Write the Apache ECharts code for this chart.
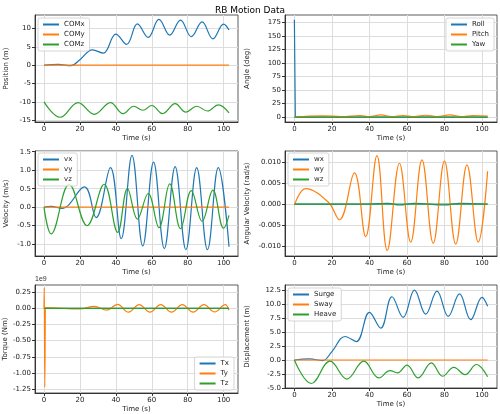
<!DOCTYPE html><html><head><meta charset="utf-8">
<script src="https://cdn.jsdelivr.net/npm/echarts@6/dist/echarts.min.js"></script>
<style>html,body{margin:0;padding:0;background:#fff}#c{width:500px;height:414px}</style></head><body><div id="c"></div>
<script>
const timeTicks=[0,20,40,60,80,100];
const surge=[[0,0],[8,0.2],[15,-0.1],[20,1.5],[27,4.2],[33,3.3],[40,8.5],[46,5.7],[52,11.3],[58,7.6],[64,12.5],[70,8.2],[76,12.3],[82,7.8],[88,11.8],[94,7.2],[100,11.2],[103,9.6]];
const sway=[[0,0],[103,0]];
const heave=[[0,0],[9,-4.2],[19,-0.2],[28,-3.4],[37,-0.2],[45,-3.2],[51,-1.9],[55,-2.3],[60,-0.9],[66,-3.2],[73,-0.5],[79,-2.9],[85,-1.3],[91,-2.6],[97,-0.8],[103,-3.0]];
const comX=surge;
const comY=[[0,0],[103,0]];
const comZ=[[0,-10],[9,-14.2],[19,-10.2],[28,-13.4],[37,-10.2],[44,-13.2],[50,-11.2],[55,-12.3],[60,-11],[66,-13.2],[73,-10.5],[79,-12.8],[85,-11.2],[91,-12.5],[97,-10.8],[103,-13]];
const roll=[[0,180],[0.4,180],[0.5,0],[103,0]];
const pitch=[[0,0],[15,2.5],[25,1],[35,3],[40,1],[46,4],[52,1],[58,3],[64,1],[70,3.5],[76,1],[83,4],[89,1],[95,3],[103,2]];
const yaw=[[0,0],[103,0]];
const vx=[[0,0],[4,0.02],[10,-0.03],[22.5,0.55],[29,-0.28],[37,1.07],[43,-0.85],[49,1.4],[55,-1.05],[61,1.22],[67,-1.12],[73,1.1],[79,-1.15],[85,1.07],[91,-1.15],[97,1.07],[103,-1.07]];
const vy=[[0,0],[103,0]];
const vz=[[0,0],[4,-0.72],[14,0.62],[24,-0.5],[33.5,0.62],[41,-0.68],[46.5,0.5],[52,-0.32],[58,0.37],[64,-0.55],[70,0.63],[76,-0.58],[82,0.45],[88,-0.38],[94,0.46],[100,-0.57],[103,-0.22]];
const wx=[[0,0],[40,0],[50,0.0002],[56,-0.0002],[64,0.0002],[80,-0.0002],[88,0.0002],[103,0]];
const wy=[[0,-0.0003],[6,0.0037],[18,0.0005],[24,-0.0037],[32,0.0074],[38,-0.0077],[44,0.0115],[49.5,-0.011],[56,0.0097],[62,-0.009],[68,0.0105],[74,-0.0093],[80,0.0102],[86,-0.0095],[92,0.0093],[98,-0.009],[103,0.0078]];
const wz=[[0,0],[103,0]];
const tx=[[0,0],[103,0]];
const ty=[[0,0],[0.15,0.32],[0.45,-1.22],[0.8,0.01],[20,-0.01],[28,0.03],[35,-0.03],[41,0.06],[47,-0.06],[53,0.055],[59,-0.06],[65,0.055],[71,-0.06],[77,0.055],[83,-0.06],[89,0.055],[95,-0.055],[101,0.055],[103,-0.03]];
const tz=[[0,0],[103,0]];
const C=['#1f77b4','#ff7f0e','#2ca02c'];
const panels=[
 {g:{left:35,top:15,width:203,height:107},y:'Position (m)',min:-15.5,max:13.7,ticks:[-15,-10,-5,0,5,10],s:[['COMx',comX],['COMy',comY],['COMz',comZ]],lg:{left:38,top:18}},
 {g:{left:285,top:15,width:212,height:107},y:'Angle (deg)',min:-9,max:189,ticks:[0,25,50,75,100,125,150,175],s:[['Roll',roll,'n'],['Pitch',pitch],['Yaw',yaw]],lg:{right:6,top:18}},
 {g:{left:35,top:151,width:203,height:105},y:'Velocity (m/s)',min:-1.32,max:1.52,ticks:[-1,-0.5,0,0.5,1,1.5],fmt:v=>v.toFixed(1),s:[['vx',vx],['vy',vy],['vz',vz]],lg:{left:38,top:153}},
 {g:{left:285,top:151,width:212,height:105},y:'Angular Velocity (rad/s)',min:-0.0123,max:0.0126,ticks:[-0.01,-0.005,0,0.005,0.01],fmt:v=>v.toFixed(3),s:[['wx',wx],['wy',wy],['wz',wz]],lg:{left:288,top:153}},
 {g:{left:35,top:285,width:203,height:108},y:'Torque (Nm)',min:-1.31,max:0.36,ticks:[-1.25,-1,-0.75,-0.5,-0.25,0,0.25],fmt:v=>v.toFixed(2),s:[['Tx',tx],['Ty',ty,'m'],['Tz',tz]],lg:{right:266,bottom:24}},
 {g:{left:285,top:285,width:212,height:103},y:'Displacement (m)',min:-5,max:13.4,ticks:[-5,-2.5,0,2.5,5,7.5,10,12.5],fmt:v=>v.toFixed(1),s:[['Surge',surge],['Sway',sway],['Heave',heave]],lg:{left:288,top:288}}
];
const opt={animation:false,textStyle:{fontFamily:'DejaVu Sans'},title:{text:'RB Motion Data',left:'center',top:1,textStyle:{fontSize:9,fontWeight:'normal',color:'#000'}},
 grid:[],xAxis:[],yAxis:[],series:[],legend:[],graphic:[{type:'text',left:35,top:276,style:{text:'1e9',fontSize:7,fill:'#333'}}]};
const ax={axisLine:{show:true,onZero:false,lineStyle:{color:'#333'}},splitLine:{show:true,lineStyle:{color:'#ddd'}}};
panels.forEach((p,i)=>{
 opt.grid.push(Object.assign({containLabel:false,show:true,borderColor:'#333',borderWidth:0.8},p.g));
 opt.xAxis.push(Object.assign({},ax,{type:'value',gridIndex:i,min:-5,max:108,name:'Time (s)',nameLocation:'middle',nameGap:13,nameTextStyle:{fontSize:7,color:'#222'},
  axisLabel:{fontSize:7,color:'#222',margin:4,customValues:timeTicks},axisTick:{show:true,length:3,customValues:timeTicks,lineStyle:{color:'#333'}}}));
 opt.yAxis.push(Object.assign({},ax,{type:'value',gridIndex:i,min:p.min,max:p.max,name:p.y,nameLocation:'middle',nameGap:i%2?34:25,nameTextStyle:{fontSize:7,color:'#222'},
  axisLabel:{fontSize:7,color:'#222',margin:4,customValues:p.ticks,formatter:p.fmt||(v=>String(v))},axisTick:{show:true,length:3,customValues:p.ticks,lineStyle:{color:'#333'}}}));
 const names=[];
 p.s.forEach((s,k)=>{names.push(s[0]);const ser={type:'line',name:s[0],xAxisIndex:i,yAxisIndex:i,data:s[1],showSymbol:false,smooth:s[2]==='n'?false:0.4,lineStyle:{width:1.2,color:C[k]},itemStyle:{color:C[k]}};
  if(s[2]==='m')ser.smoothMonotone='x';opt.series.push(ser);});
 opt.legend.push(Object.assign({data:names,orient:'vertical',itemWidth:16,itemHeight:2,icon:'rect',itemGap:3,padding:[3,5],borderColor:'#ccc',borderWidth:0.8,borderRadius:2,backgroundColor:'rgba(255,255,255,0.8)',textStyle:{fontSize:7,color:'#222'}},p.lg));
});
echarts.init(document.getElementById('c'),null,{renderer:'canvas'}).setOption(opt);
</script></body></html>
